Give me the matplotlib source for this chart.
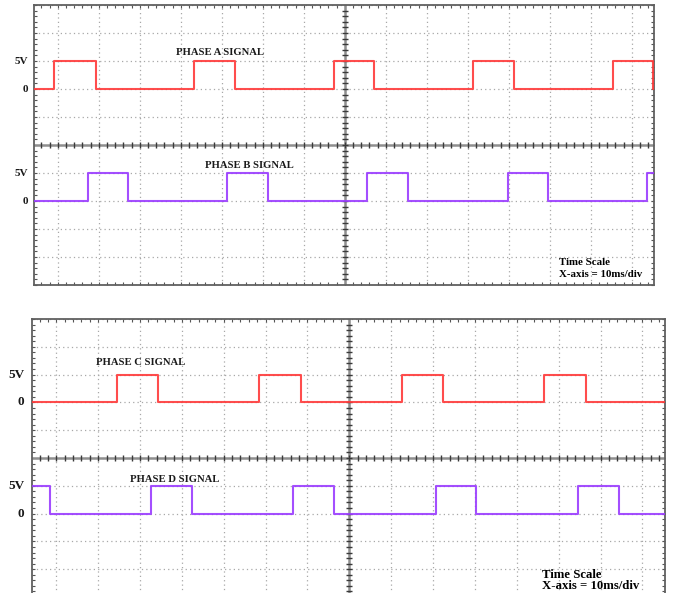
import numpy as np
import matplotlib.pyplot as plt
from matplotlib.ticker import MultipleLocator

# time axis is 10 ms/div, vertical is 5 V/div
x_range = (-75.8, 75.4)       # ms
volt_per_div = 5.0

# switching instants (ms) and level at the left edge (V)
phase_a_edges = [-71.0, -60.7, -36.8, -26.8, -2.7, 7.1, 31.2, 41.2, 65.4, 75.2]
phase_a_start = 0
phase_b_edges = [-62.7, -52.9, -28.8, -18.8, 5.4, 15.4, 39.8, 49.5, 73.7]
phase_b_start = 0
phase_c_edges = [-55.6, -45.6, -21.5, -11.5, 12.6, 22.4, 46.5, 56.6]
phase_c_start = 0
phase_d_edges = [-71.6, -47.3, -37.5, -13.4, -3.6, 20.8, 30.3, 54.7, 64.4]
phase_d_start = 5

red = '#ff3a3a'
purple = '#9a3cff'
serif = 'Liberation Serif'


def square_wave(edges, start, high=5.0):
    t = [x_range[0]] + list(edges) + [x_range[1]]
    v = [start]
    for _ in edges:
        v.append(high if v[-1] == 0 else 0)
    v.append(v[-1])
    return np.array(t), np.array(v, dtype=float)


def scope_axes(fig, rect):
    ax = fig.add_axes(rect)
    ax.set_xlim(*x_range)
    ax.set_ylim(-5, 5)
    ax.xaxis.set_major_locator(MultipleLocator(10))
    ax.xaxis.set_minor_locator(MultipleLocator(2))
    ax.yaxis.set_major_locator(MultipleLocator(1))
    ax.yaxis.set_minor_locator(MultipleLocator(0.2))
    ax.tick_params(which='both', direction='in', top=True, right=True,
                   length=2.5, width=0.8, color='#555555',
                   labelbottom=False, labelleft=False)
    ax.grid(True, which='major', color='#a8a8a8', lw=0.9, ls=(0, (1, 2.5)))
    for s in ax.spines.values():
        s.set_color('#606060')
        s.set_linewidth(1.3)
    # centre cross with its own graduations
    ax.axhline(0, color='#8f8f8f', lw=1.8, zorder=2)
    ax.axvline(0, color='#8f8f8f', lw=1.8, zorder=2)
    tx = np.arange(-74, 76, 2)
    ty = np.arange(-4.8, 5.0, 0.2)
    ax.plot(tx, np.zeros_like(tx), ls='none', marker='|', ms=5,
            mew=1.0, color='#3a3a3a', zorder=3)
    ax.plot(np.zeros_like(ty), ty, ls='none', marker='_', ms=5,
            mew=1.0, color='#3a3a3a', zorder=3)
    return ax


def channel(ax, edges, start, offset, color, label, lx, ly, vsize, vpad):
    t, v = square_wave(edges, start)
    ax.plot(t, offset + v / volt_per_div, drawstyle='steps-post',
            color=color, lw=1.5, alpha=0.9, zorder=4)
    ax.text(lx, ly, label, fontsize=7.7, fontweight='bold', family=serif,
            ha='center', va='center', color='#1a1a1a')
    for txt, lev in (('5V', offset + 1), ('0', offset)):
        ax.annotate(txt, xy=(0, lev), xycoords=('axes fraction', 'data'),
                    xytext=(-vpad, 0), textcoords='offset points',
                    ha='right', va='center', fontsize=vsize,
                    fontweight='bold', family=serif, color='#1a1a1a')


W, H = 673, 593
fig = plt.figure(figsize=(W / 100, H / 100), dpi=100)

ax1 = scope_axes(fig, [34 / W, 1 - 285 / H, 620 / W, 280 / H])
channel(ax1, phase_a_edges, phase_a_start, 2, red, 'PHASE A SIGNAL',
        -30.5, 3.32, 8, 4.5)
channel(ax1, phase_b_edges, phase_b_start, -2, purple, 'PHASE B SIGNAL',
        -23.2, -0.75, 8, 4.5)
ax1.text(52.2, -4.21, 'Time Scale', fontsize=7.8, fontweight='bold',
         family=serif, va='center')
ax1.text(52.2, -4.64, 'X-axis = 10ms/div', fontsize=7.8, fontweight='bold',
         family=serif, va='center')

ax2 = scope_axes(fig, [32 / W, 1 - 597 / H, 633 / W, 278 / H])
channel(ax2, phase_c_edges, phase_c_start, 2, red, 'PHASE C SIGNAL',
        -49.9, 3.42, 9.5, 5.5)
channel(ax2, phase_d_edges, phase_d_start, -2, purple, 'PHASE D SIGNAL',
        -41.8, -0.76, 9.5, 5.5)
ax2.text(46.1, -4.20, 'Time Scale', fontsize=9.2, fontweight='bold',
         family=serif, va='center')
ax2.text(46.1, -4.62, 'X-axis = 10ms/div', fontsize=9.2, fontweight='bold',
         family=serif, va='center')

fig.savefig('out.png', dpi=100)
